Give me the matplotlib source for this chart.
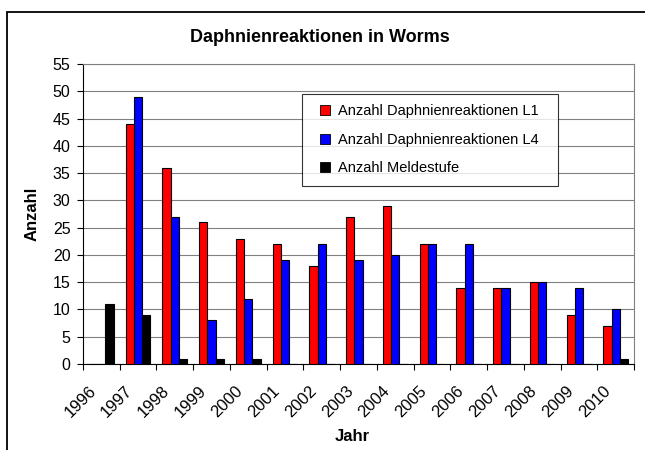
import matplotlib
matplotlib.use('Agg')
import matplotlib.pyplot as plt
import matplotlib.patches as mpatches
import matplotlib.transforms as mtransforms
from matplotlib.lines import Line2D
import numpy as np

plt.rcParams['font.family'] = ['Liberation Sans', 'DejaVu Sans']

years = ['1996', '1997', '1998', '1999', '2000', '2001', '2002', '2003',
         '2004', '2005', '2006', '2007', '2008', '2009', '2010']
l1 = [0, 44, 36, 26, 23, 22, 18, 27, 29, 22, 14, 14, 15, 9, 7]
l4 = [0, 49, 27, 8, 12, 19, 22, 19, 20, 22, 22, 14, 15, 14, 10]
meldestufe = [11, 9, 1, 1, 1, 0, 0, 0, 0, 0, 0, 0, 0, 0, 1]
series_names = ['Anzahl Daphnienreaktionen L1', 'Anzahl Daphnienreaktionen L4',
                'Anzahl Meldestufe']

fig = plt.figure(figsize=(6.45, 4.5), dpi=100)
ax = fig.add_axes([83/645, 1 - 364/450, (634 - 83)/645, (364 - 64)/450])

# chart frame (cropped on right and bottom like the source)
top = 1 - 12/450
frame = mpatches.Rectangle((7/645, -0.2), 1.5, top + 0.2,
                           transform=fig.transFigure, fill=False,
                           edgecolor='black', linewidth=1.3, clip_on=False)
fig.add_artist(frame)

x = np.arange(len(years))
w = 0.225
colors = ['#ff0000', '#0000ff', '#000000']
for i, (vals, c, name) in enumerate(zip([l1, l4, meldestufe], colors, series_names)):
    ax.bar(x + (i - 1) * w, vals, w, color=c, edgecolor='black',
           linewidth=0.8, label=name, zorder=3)

ax.set_xlim(-0.5, len(years) - 0.5)
ax.set_ylim(0, 55)
ax.set_yticks(np.arange(0, 56, 5))
ax.yaxis.grid(True, color='#808080', linewidth=0.8, zorder=0)
ax.set_axisbelow(True)

# category boundaries as tick marks, labels at centres
ax.set_xticks(np.arange(-0.5, len(years), 1.0))
ax.set_xticklabels([])
ax.set_xticks(x, minor=True)
ax.set_xticklabels(years, minor=True, rotation=45, ha='right',
                   rotation_mode='anchor', fontsize=12)
ax.tick_params(axis='x', which='minor', length=0, pad=14)
ax.tick_params(axis='x', which='major', length=4, direction='out', color='black')
ax.tick_params(axis='y', length=4, direction='out', labelsize=11.5, pad=5)
shift = mtransforms.ScaledTranslation(-13/100, 0, fig.dpi_scale_trans)
for lab in ax.get_xticklabels(minor=True):
    lab.set_transform(lab.get_transform() + shift)

for s in ['top', 'right']:
    ax.spines[s].set_color('#808080')
for s in ['left', 'bottom']:
    ax.spines[s].set_color('black')

fig.text(320/645, 1 - 38/450, 'Daphnienreaktionen in Worms',
         fontsize=13, fontweight='bold', ha='center', va='center')
ax.set_ylabel('Anzahl', fontsize=12, fontweight='bold')
ax.yaxis.set_label_coords((40 - 83) / 551, 0.5)
ax.set_xlabel('Jahr', fontsize=12, fontweight='bold')
ax.xaxis.set_label_coords(0.5 - 6/551, -(429 - 364) / 300)

handles = [Line2D([], [], marker='s', linestyle='none', markersize=6.5,
                  markerfacecolor=c, markeredgecolor='black', markeredgewidth=0.6)
           for c in colors]
leg = ax.legend(handles, series_names, loc='upper left', mode='expand',
                bbox_to_anchor=((302 - 83)/551, (364 - 184)/300,
                                (558 - 302)/551, (184 - 94)/300),
                fontsize=10.5, frameon=True, fancybox=False, shadow=False,
                handlelength=1.75, labelspacing=1.0,
                borderpad=0.7, handletextpad=0.05, borderaxespad=0)
leg.get_frame().set_edgecolor('black')
leg.get_frame().set_linewidth(0.8)

fig.savefig('out.png', dpi=100)
